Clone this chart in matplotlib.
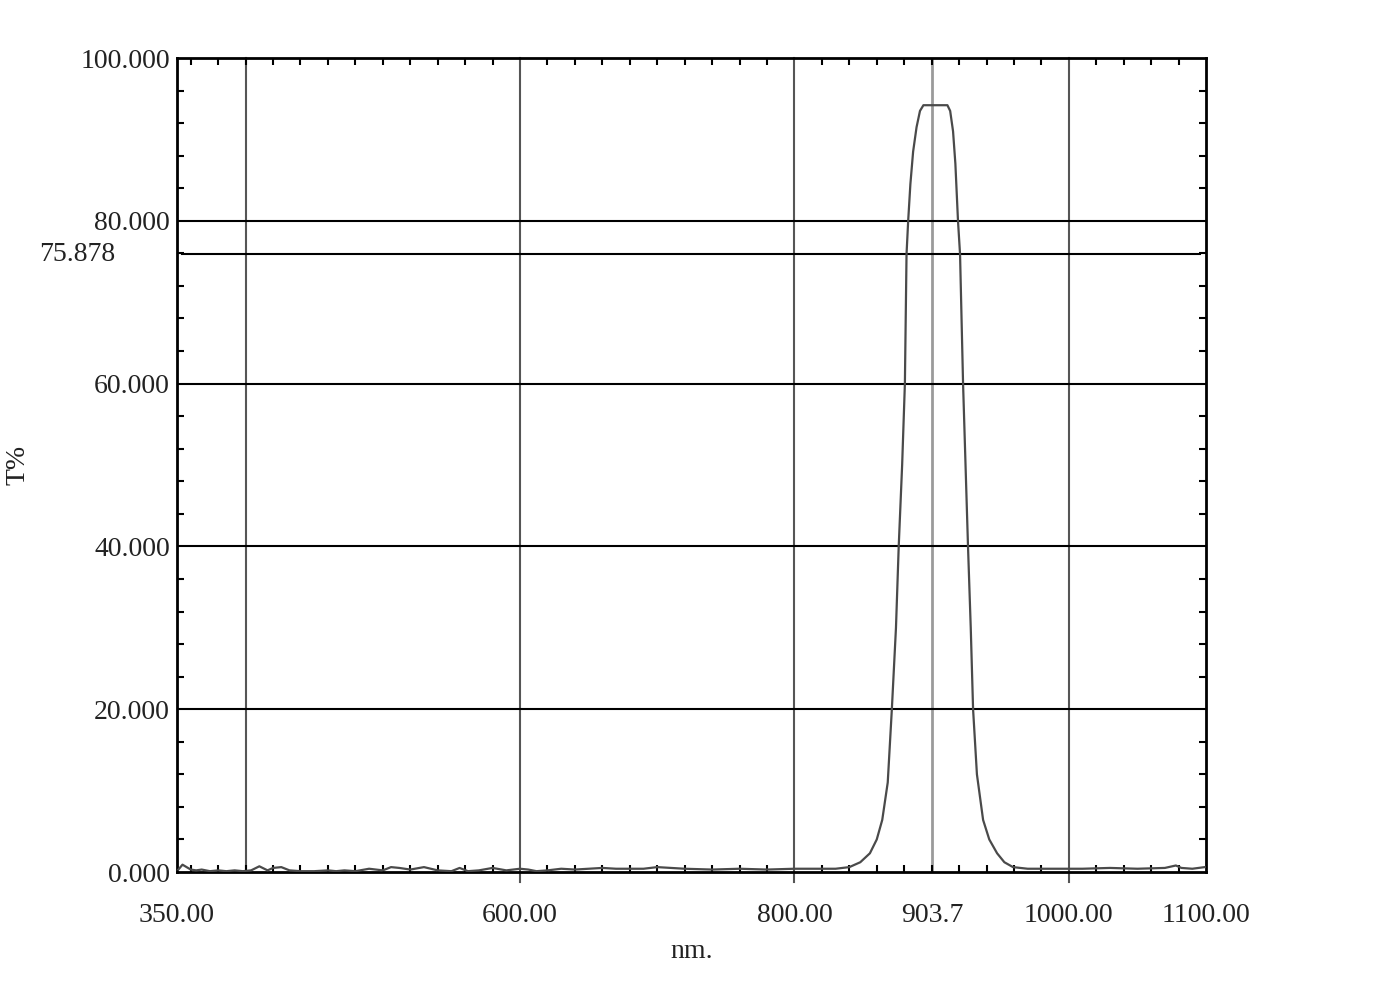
import matplotlib
matplotlib.use("Agg")
import matplotlib.pyplot as plt
from matplotlib.ticker import MultipleLocator

plt.rcParams['font.family'] = ['Liberation Serif', 'DejaVu Serif']

# transmittance curve (nm, T%)
wl = [351, 354, 357, 360, 364, 368, 374, 380, 386, 392, 398, 404, 410, 416,
      420, 426, 432, 440, 450, 460, 466, 472, 480, 490, 500, 506, 512, 520,
      530, 540, 550, 556, 562, 570, 580, 590, 600, 606, 612, 620, 630, 640,
      650, 660, 670, 680, 690, 700, 720, 740, 760, 780, 800, 820, 830,
      840, 848, 855, 860, 864, 868, 871, 874, 876, 878.5, 880.5, 881.7,
      882.9, 884.5, 886.5, 889, 891.5, 894, 911.5, 913.5, 915.6, 917.3,
      919.2, 920.7, 922.9, 924.7, 926.5, 928.5, 930.2, 933, 937.5, 942,
      947.7, 953, 959.3, 970, 990, 1010, 1030, 1050, 1070, 1078, 1082,
      1090, 1099]
trans = [0.3, 0.9, 0.6, 0.3, 0.2, 0.3, 0.1, 0.2, 0.1, 0.2, 0.1, 0.2, 0.7, 0.2,
         0.5, 0.6, 0.2, 0.1, 0.1, 0.2, 0.1, 0.2, 0.1, 0.4, 0.2, 0.6, 0.5, 0.3,
         0.6, 0.2, 0.1, 0.5, 0.1, 0.2, 0.5, 0.2, 0.4, 0.3, 0.1, 0.2, 0.4, 0.3,
         0.4, 0.5, 0.4, 0.4, 0.4, 0.6, 0.4, 0.3, 0.4, 0.3, 0.4, 0.4, 0.4,
         0.6, 1.2, 2.3, 4.0, 6.4, 11, 20, 30, 40, 50, 60, 75.9,
         80, 84.5, 88.5, 91.5, 93.5, 94.2, 94.2, 93.5, 91, 87,
         80, 75.9, 60, 50, 40, 30, 20, 12, 6.4, 4.0,
         2.3, 1.2, 0.6, 0.4, 0.4, 0.4, 0.5, 0.4, 0.5, 0.8, 0.5,
         0.4, 0.6]

grid_x = [400, 600, 800, 1000]
grid_y = [20, 40, 60, 80]
xtick_pos = [350, 600, 800, 900.3, 1000, 1100]
xtick_lbl = ['350.00', '600.00', '800.00', '903.7', '1000.00', '1100.00']
ytick_pos = [0, 20, 40, 60, 80, 100]
ytick_lbl = ['0.000', '20.000', '40.000', '60.000', '80.000', '100.000']
peak_mark = 900.3
level = 75.878

fig = plt.figure(figsize=(13.85, 10), dpi=100)
ax = fig.add_axes([0.1278, 0.128, 0.743, 0.814])
ax.set_xlim(350, 1100)
ax.set_ylim(0, 100)

for x in grid_x:
    lo = -0.012 if x != 400 else 0
    ax.axvline(x, ymin=lo, color='#555555', lw=1.5, clip_on=False, zorder=1)
ax.axvline(peak_mark, color='#9a9a9a', lw=2, zorder=1)
for y in grid_y:
    ax.axhline(y, color='black', lw=1.5, zorder=1)
ax.axhline(level, xmin=0.005, xmax=0.994, color='black', lw=1.5, zorder=1)

ax.plot(wl, trans, color='#4a4a4a', lw=1.6, zorder=3)

ax.set_xticks(xtick_pos)
ax.set_xticklabels(xtick_lbl)
ax.set_yticks(ytick_pos)
ax.set_yticklabels(ytick_lbl)
ax.xaxis.set_minor_locator(MultipleLocator(20))
ax.yaxis.set_minor_locator(MultipleLocator(4))
ax.tick_params(which='major', length=0, labelsize=20, colors='#222222')
ax.tick_params(axis='x', which='major', pad=22)
ax.tick_params(axis='y', which='major', pad=5)
ax.tick_params(which='minor', direction='in', length=5, width=1.5,
               top=True, right=True, color='black')

for s in ax.spines.values():
    s.set_linewidth(2)
    s.set_color('black')

ax.text(-0.0603, level, '75.878', transform=ax.get_yaxis_transform(),
        ha='right', va='center', fontsize=20, color='#222222')

ax.set_xlabel('nm.', fontsize=20, color='#222222', labelpad=8)
ax.set_ylabel('T%', fontsize=20, color='#222222', labelpad=36)

fig.savefig('out.png', dpi=100)
